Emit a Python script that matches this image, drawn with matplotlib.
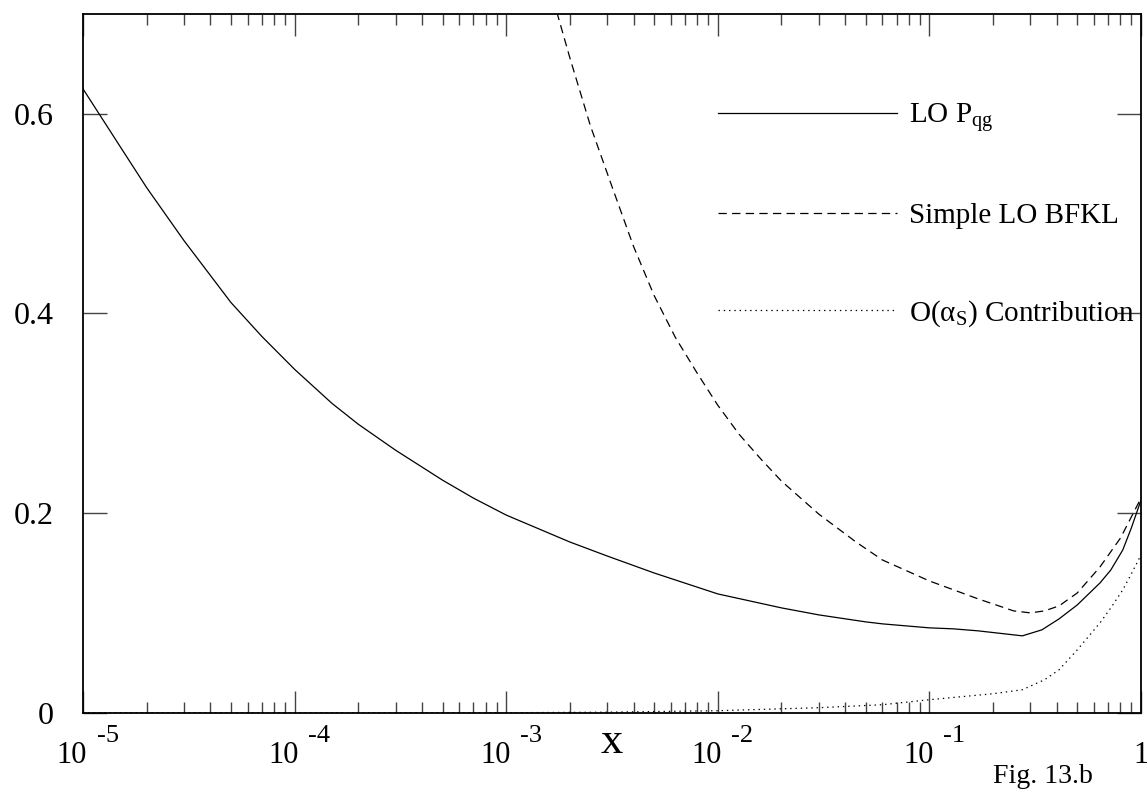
import matplotlib
matplotlib.use("Agg")
import matplotlib.pyplot as plt
from matplotlib.ticker import FixedLocator, FixedFormatter, LogLocator, NullFormatter

plt.rcParams['font.family'] = ['Liberation Serif', 'DejaVu Serif']
plt.rcParams['mathtext.fontset'] = 'custom'
plt.rcParams['mathtext.rm'] = 'Liberation Serif'
plt.rcParams['mathtext.it'] = 'Liberation Serif:italic'
plt.rcParams['lines.scale_dashes'] = False

# ---- data ----
x_lo = [1e-5, 1.5e-5, 2e-5, 3e-5, 5e-5, 7e-5, 1e-4, 1.5e-4, 2e-4, 3e-4, 5e-4, 7e-4,
        1e-3, 2e-3, 3e-3, 5e-3, 1e-2, 2e-2, 3e-2, 5e-2, 0.06, 0.1, 0.13, 0.17,
        0.275, 0.34, 0.41, 0.5, 0.64, 0.72, 0.82, 0.9, 1.0]
y_lo = [0.625, 0.567, 0.526, 0.473, 0.411, 0.377, 0.344, 0.310, 0.289, 0.263, 0.233, 0.215,
        0.198, 0.171, 0.157, 0.140, 0.119, 0.105, 0.098, 0.091, 0.089, 0.085, 0.084, 0.082,
        0.077, 0.083, 0.094, 0.108, 0.130, 0.143, 0.163, 0.185, 0.213]

x_bfkl = [0.0016, 0.002, 0.0025, 0.0032, 0.004, 0.005, 0.0063, 0.008, 0.01, 0.0126,
          0.016, 0.02, 0.03, 0.045, 0.06, 0.1, 0.17, 0.25, 0.3, 0.35, 0.41, 0.5, 0.64, 0.8, 1.0]
y_bfkl = [0.728, 0.656, 0.588, 0.524, 0.467, 0.418, 0.376, 0.340, 0.308, 0.279,
          0.254, 0.232, 0.199, 0.171, 0.153, 0.132, 0.114, 0.102, 0.100, 0.102, 0.107, 0.120, 0.146, 0.175, 0.215]

x_as = [1e-5, 1e-3, 3e-3, 0.01, 0.03, 0.06, 0.1, 0.2, 0.275, 0.35, 0.41, 0.5, 0.64, 0.72, 0.82, 0.9, 1.0]
y_as = [0.0, 0.0, 0.0005, 0.002, 0.005, 0.008, 0.013, 0.019, 0.023, 0.033, 0.043, 0.063, 0.090,
        0.105, 0.123, 0.139, 0.158]

labels = [r'LO P$_{\mathrm{qg}}$', 'Simple LO BFKL', r'O(α$_{\mathrm{S}}$) Contribution']
xtick_vals = [1e-5, 1e-4, 1e-3, 1e-2, 1e-1, 1.0]
xtick_exps = ['-5', '-4', '-3', '-2', '-1', None]
ytick_vals = [0, 0.2, 0.4, 0.6]
ytick_labels = ['0', '0.2', '0.4', '0.6']

fig = plt.figure(figsize=(11.47, 7.93), dpi=100)
ax = fig.add_axes([83/1147, 1 - 712.7/793, (1141 - 83)/1147, (712.7 - 14)/793])

l1, = ax.plot(x_lo, y_lo, color='black', lw=0.9, ls='-')
l2, = ax.plot(x_bfkl, y_bfkl, color='black', lw=0.9, ls=(0, (6.0, 3.8)))
l3, = ax.plot(x_as, y_as, color='black', lw=0.9, ls=(0, (1.0, 2.8)))

ax.set_xscale('log')
ax.set_xlim(1e-5, 1.0)
ax.set_ylim(0, 0.7)

ax.xaxis.set_major_locator(FixedLocator(xtick_vals))
ax.xaxis.set_major_formatter(NullFormatter())
ax.xaxis.set_minor_locator(LogLocator(base=10, subs=range(2, 10), numticks=20))
ax.xaxis.set_minor_formatter(NullFormatter())
ax.yaxis.set_major_locator(FixedLocator(ytick_vals))
ax.yaxis.set_major_formatter(FixedFormatter(ytick_labels))
ax.yaxis.set_minor_locator(FixedLocator([]))

ax.tick_params(axis='both', which='both', direction='in', top=True, right=True,
               color='#444444', width=1.0)
ax.tick_params(axis='x', which='major', length=16)
ax.tick_params(axis='x', which='minor', length=8)
ax.tick_params(axis='y', which='major', length=17, labelsize=23, pad=21)
for sp in ax.spines.values():
    sp.set_linewidth(1.3)

# x tick labels: "10" with a raised exponent, placed at each decade
for xv, ex in zip(xtick_vals, xtick_exps):
    if ex is None:
        ax.annotate('1', xy=(xv, 0), xycoords=('data', 'axes fraction'),
                    xytext=(0, -36.2), textcoords='offset points',
                    ha='center', va='baseline', fontsize=22, annotation_clip=False)
    else:
        ax.annotate('10', xy=(xv, 0), xycoords=('data', 'axes fraction'),
                    xytext=(3.0, -36.2), textcoords='offset points',
                    ha='right', va='baseline', fontsize=22, annotation_clip=False)
        ax.annotate(ex, xy=(xv, 0), xycoords=('data', 'axes fraction'),
                    xytext=(9.8, -21.0), textcoords='offset points',
                    ha='left', va='baseline', fontsize=19, annotation_clip=False)

ax.set_xlabel('x', fontsize=32, va='baseline')
ax.xaxis.set_label_coords(0.5, -(753 - 712.7) / (712.7 - 14))

leg = ax.legend([l1, l2, l3], labels, frameon=False, fontsize=21,
                handlelength=6.13, handletextpad=0.41, labelspacing=2.36,
                loc='upper left', bbox_to_anchor=((718 - 83) / (1141 - 83), 1 - (101 - 14) / (712.7 - 14)),
                borderaxespad=0, borderpad=0)

fig.text(993 / 1147, 1 - 783 / 793, 'Fig. 13.b', fontsize=20, ha='left', va='baseline')

fig.savefig('out.png', dpi=100)
